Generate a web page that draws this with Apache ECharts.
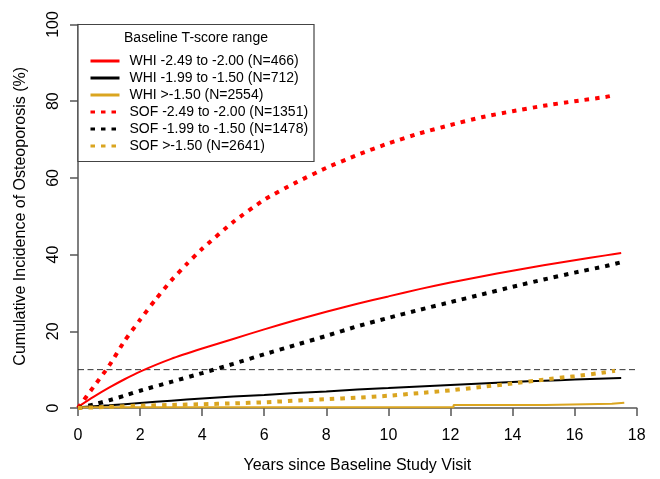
<!DOCTYPE html>
<html>
<head>
<meta charset="utf-8">
<script src="https://cdn.jsdelivr.net/npm/echarts@6/dist/echarts.min.js"></script>
<style>html,body{margin:0;padding:0;background:#fff}#c{width:660px;height:479px}</style>
</head>
<body>
<div id="c"></div>
<script>
// ---- data ----
const xTicks = [0, 2, 4, 6, 8, 10, 12, 14, 16, 18];
const yTicks = [0, 20, 40, 60, 80, 100];
const seriesNames = [
  "WHI -2.49 to -2.00 (N=466)",
  "WHI -1.99 to -1.50 (N=712)",
  "WHI >-1.50 (N=2554)",
  "SOF -2.49 to -2.00 (N=1351)",
  "SOF -1.99 to -1.50 (N=1478)",
  "SOF >-1.50 (N=2641)"
];
const whiRedT = [0,0.5,1,1.5,2,3,4,5,6,7,8,9,10,11,12,13,14,15,16,17,17.5];
const whiRedV = [0.3,2.9,5.3,7.5,9.5,12.8,15.5,18.0,20.5,22.9,25.1,27.2,29.1,31.0,32.7,34.3,35.8,37.2,38.5,39.8,40.4];
const whiBlackT = [0,1,2,3,4,5,6,7,8,9,10,11,12,13,14,15,16,17,17.5];
const whiBlackV = [0.2,0.7,1.3,1.9,2.5,3.0,3.4,3.9,4.3,4.8,5.2,5.6,6.0,6.4,6.8,7.1,7.4,7.7,7.8];
const whiGoldT = [0,12.1,15.05,17.2,17.6];
const whiGoldV = [0.2,0.8,1.1,1.4,1.4];
const sofRedT = [0,0.5,1,1.5,2,2.5,3,3.5,4,5,6,7,8,9,10,11,12,13,14,15,16,17,17.3];
const sofRedV = [0,5.5,11,17.5,23,28.3,33.2,37.5,41.5,48.5,54.3,58.7,62.6,66,69,71.6,73.8,75.8,77.4,78.8,80,81.1,81.6];
const sofBlackT = [0,0.5,1,1.5,2,3,4,5,6,7,8,9,10,11,12,13,14,15,16,17,17.5];
const sofBlackV = [0,0.9,2.0,3.2,4.5,6.8,9.1,11.5,14.0,16.4,18.8,21.3,23.5,25.6,27.6,29.6,31.6,33.5,35.3,37.0,38.0];
const sofGoldT = [0,1,2,3,4,5,6,7,8,9,10,11,12,13,14,15,16,17,17.3];
const sofGoldV = [0,0.3,0.6,0.8,1.0,1.2,1.5,1.9,2.3,2.7,3.2,3.9,4.6,5.5,6.4,7.4,8.3,9.3,9.7];
const refX = [0, 18];
const refY = [10, 10];
const legendTitle = "Baseline T-score range";

// ---- build chart ----
const pairs = (t, v) => t.map((x, i) => [x, v[i]]);
const FONT = "Liberation Sans, Arial, Helvetica, sans-serif";
const RED = "#FF0000", BLACK = "#000000", GOLD = "#DAA520";
const solid = (name, t, v, color, step) => ({
  name, type: "line", data: pairs(t, v), symbol: "none", step: step || false,
  smooth: step ? false : 0.2,
  lineStyle: { color, width: 2 }, itemStyle: { color, opacity: 0 }, z: 3, silent: true
});
const dotted = (name, t, v, color) => ({
  name, type: "line", data: pairs(t, v), symbol: "none", smooth: 0.2,
  lineStyle: { color, width: 4, type: [4.5, 6] }, itemStyle: { color, opacity: 0 }, z: 3, silent: true
});

const chart = echarts.init(document.getElementById("c"), null, { renderer: "canvas" });
chart.setOption({
  animation: false,
  backgroundColor: "#fff",
  grid: { left: 78, right: 23.3, top: 24.5, bottom: 68 },
  xAxis: {
    type: "value", min: xTicks[0], max: xTicks[xTicks.length - 1], interval: 2,
    name: "Years since Baseline Study Visit", nameLocation: "middle", nameGap: 50,
    nameTextStyle: { fontFamily: FONT, fontSize: 16, color: "#000" },
    axisLine: { show: true, lineStyle: { color: "#555", width: 1.5 } },
    axisTick: { show: true, length: 8, lineStyle: { color: "#555", width: 1.5 } },
    axisLabel: { fontFamily: FONT, fontSize: 16, color: "#000", margin: 20 },
    splitLine: { show: false }
  },
  yAxis: {
    type: "value", min: yTicks[0], max: yTicks[yTicks.length - 1], interval: 20,
    name: "Cumulative Incidence of Osteoporosis (%)", nameLocation: "middle", nameGap: 49,
    nameTextStyle: { fontFamily: FONT, fontSize: 16, color: "#000" },
    axisLine: { show: true, lineStyle: { color: "#555", width: 1.5 } },
    axisTick: { show: true, length: 8, lineStyle: { color: "#555", width: 1.5 } },
    axisLabel: { fontFamily: FONT, fontSize: 16, color: "#000", margin: 16, rotate: 90 },
    splitLine: { show: false }
  },
  legend: {
    data: seriesNames, orient: "vertical", left: 84, top: 49,
    itemWidth: 29, itemHeight: 14, itemGap: 3, z: 10,
    itemStyle: { opacity: 0 },
    lineStyle: { width: 3 },
    textStyle: { fontFamily: FONT, fontSize: 14, color: "#000", lineHeight: 14, padding: [0, 0, 0, 5] },
    selectedMode: false
  },
  graphic: [
    { type: "rect", z: 9, shape: { x: 78, y: 24.5, width: 236, height: 137 },
      style: { fill: "#fff", stroke: "#444", lineWidth: 1.2 } },
    { type: "text", z: 10, x: 196, y: 38,
      style: { text: legendTitle, font: "14px " + FONT, fill: "#000", textAlign: "center", textVerticalAlign: "middle" } }
  ],
  series: [
    solid(seriesNames[0], whiRedT, whiRedV, RED),
    solid(seriesNames[1], whiBlackT, whiBlackV, BLACK),
    solid(seriesNames[2], whiGoldT, whiGoldV, GOLD, "end"),
    dotted(seriesNames[3], sofRedT, sofRedV, RED),
    dotted(seriesNames[4], sofBlackT, sofBlackV, BLACK),
    dotted(seriesNames[5], sofGoldT, sofGoldV, GOLD),
    { name: "ref", type: "line", data: pairs(refX, refY), symbol: "none", silent: true, z: 2,
      lineStyle: { color: "#333", width: 1, type: [6, 3.5] } }
  ]
});
</script>
</body>
</html>
